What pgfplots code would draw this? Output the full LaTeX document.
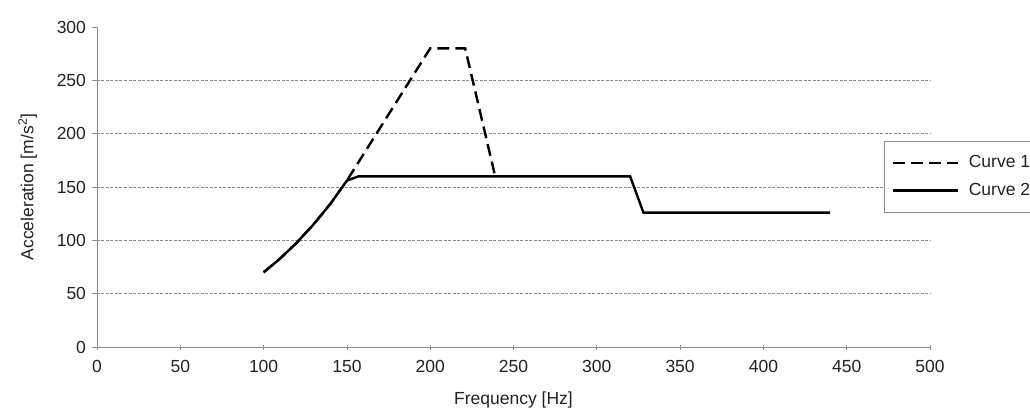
\documentclass[border=0pt]{standalone}
\usepackage{fontspec}
\setmainfont{Liberation Sans}
\usepackage{pgfplots}
\pgfplotsset{compat=1.18}
\definecolor{txt}{HTML}{222222}
\definecolor{axgray}{HTML}{8C8C8C}
\definecolor{gridgray}{HTML}{8A8A8A}
\begin{document}
\fontsize{17.5}{21}\selectfont
\begin{tikzpicture}
\begin{axis}[
  scale only axis, width=833pt, height=320pt,
  xmin=0, xmax=500, ymin=0, ymax=300,
  xtick={0,50,...,500}, ytick={0,50,...,300},
  axis x line=bottom, axis y line=left,
  axis line style={axgray, line width=0.8pt, -},
  tick align=outside, major tick length=5pt,
  tick style={axgray, line width=0.8pt},
  xtick style={yshift=2.5pt},
  /pgf/number format/assume math mode=true,
  ticklabel style={text=txt},
  xticklabel style={yshift=-2pt},
  extra y ticks={50,100,150,200,250},
  extra y tick labels={},
  extra y tick style={grid=major, major tick length=0pt},
  grid style={gridgray, line width=0.7pt, dash pattern=on 3pt off 1.5pt},
  xlabel={Frequency [Hz]},
  xlabel style={yshift=-8pt},
  ylabel={Acceleration [m/s\textsuperscript{2}]},
  ylabel style={yshift=3pt},
  label style={text=txt},
  legend style={at={(0.9448,0.6438)}, anchor=north west, draw=axgray, line width=0.8pt, fill=white,
    inner xsep=7pt, inner ysep=12pt, row sep=9pt, cells={anchor=west}, text=txt},
  legend image code/.code={\draw[#1] (0pt,0pt) -- (65pt,0pt); \path (73pt,0pt);},
  clip=false,
]
\addplot[black, line width=2.4pt, dash pattern=on 12pt off 6pt] coordinates {
  (100,70) (110,83) (120,98) (130,115) (140,134) (150,156) (200,280) (221,280) (239,160)
};
\addlegendentry{Curve 1}
\addplot[black, line width=2.4pt] coordinates {
  (100,70) (110,83) (120,98) (130,115) (140,134) (150,156) (157,160) (320,160) (328,126) (440,126)
};
\addlegendentry{Curve 2}
\end{axis}
\pgfresetboundingbox
\path (-97pt,-63pt) rectangle (933pt,347pt);
\end{tikzpicture}
\end{document}
